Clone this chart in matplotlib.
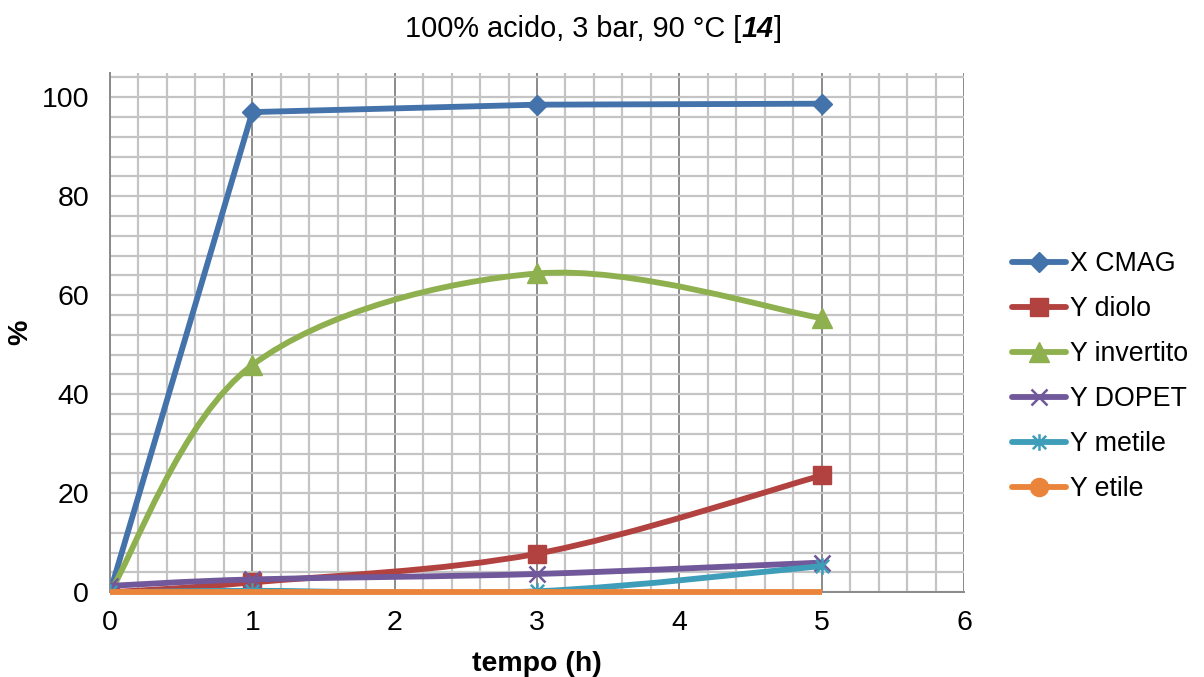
import numpy as np
import matplotlib
matplotlib.use("Agg")
import matplotlib.pyplot as plt
from matplotlib.path import Path
from matplotlib.patches import PathPatch
from matplotlib.lines import Line2D
from matplotlib.ticker import MultipleLocator

plt.rcParams["font.family"] = ["Liberation Sans", "DejaVu Sans"]

# ---- data ----
tempo = [0, 1, 3, 5]
x_cmag = [0.0, 97.0, 98.5, 98.7]
y_diolo = [0.0, 2.0, 7.8, 23.6]
y_invertito = [0.0, 45.9, 64.4, 55.4]
y_dopet = [1.3, 2.6, 3.7, 6.0]
y_metile = [0.0, 0.3, 0.2, 5.3]
y_etile = [0.0, 0.0, 0.0, 0.0]

labels = ["X CMAG", "Y diolo", "Y invertito", "Y DOPET", "Y metile", "Y etile"]
colors = ["#4472AA", "#B2423F", "#8FB04E", "#71589A", "#3E9DB8", "#E9843A"]

FS_TITLE = 20.8
FS_TICK = 20.5
FS_LEG = 19.3

# asterisk marker: an X crossed by a vertical stroke
star = Path([(-1, -1), (1, 1), (-1, 1), (1, -1), (0, -1.25), (0, 1.25)],
            [Path.MOVETO, Path.LINETO] * 3)


def smooth_path(x, y):
    """Cubic Bezier path through the points (Catmull-Rom style tangents)."""
    pts = np.column_stack([x, y]).astype(float)
    n = len(pts)
    verts = [pts[0]]
    codes = [Path.MOVETO]
    for i in range(n - 1):
        p0 = pts[i - 1] if i > 0 else pts[i]
        p1 = pts[i]
        p2 = pts[i + 1]
        p3 = pts[i + 2] if i + 2 < n else pts[i + 1]
        verts += [p1 + (p2 - p0) / 6.0, p2 - (p3 - p1) / 6.0, p2]
        codes += [Path.CURVE4] * 3
    return Path(verts, codes)


fig = plt.figure(figsize=(12.04, 6.77), dpi=100)
ax = fig.add_axes([110 / 1204, 1 - 592.3 / 677, (964 - 110) / 1204, 519.8 / 677])

ax.set_xlim(0, 6)
ax.set_ylim(0, 105)
ax.xaxis.set_major_locator(MultipleLocator(1))
ax.xaxis.set_minor_locator(MultipleLocator(0.2))
ax.set_yticks([0, 20, 40, 60, 80, 100])
ax.set_yticks(np.arange(0, 105, 4), minor=True)

minor_c = "#c4c4c4"
major_c = "#8a8a8a"
ax.grid(which="minor", color=minor_c, lw=1.6)
ax.grid(which="major", axis="y", color=minor_c, lw=1.6)
ax.grid(which="major", axis="x", color=major_c, lw=1.4)
ax.set_axisbelow(True)

for s in ("top", "right"):
    ax.spines[s].set_visible(False)
for s in ("left", "bottom"):
    ax.spines[s].set_color(major_c)
    ax.spines[s].set_linewidth(1.4)

ax.tick_params(which="both", length=0, labelsize=FS_TICK)
ax.tick_params(axis="x", pad=13)
ax.tick_params(axis="y", pad=15)

LW = 4.2

# X CMAG: straight segments
ax.plot(tempo, x_cmag, color=colors[0], lw=LW, solid_joinstyle="round",
        solid_capstyle="round", marker="D", ms=10, zorder=3)

# smoothed series
smooth_series = [
    (y_diolo, colors[1], dict(marker="s", ms=13)),
    (y_invertito, colors[2], dict(marker="^", ms=14)),
    (y_dopet, colors[3], dict(marker="x", ms=11, mew=1.8)),
    (y_metile, colors[4], dict(marker=star, ms=12, mew=1.8, mfc="none")),
]
for k, (vals, c, mk) in enumerate(smooth_series):
    patch = PathPatch(smooth_path(tempo, vals), fill=False, edgecolor=c, lw=LW,
                      joinstyle="round", capstyle="round", zorder=4 + k)
    ax.add_patch(patch)
    ax.plot(tempo, vals, ls="none", color=c, zorder=4 + k, **mk)

# Y etile: flat line at zero
ax.plot(tempo, y_etile, color=colors[5], lw=LW, solid_capstyle="butt", zorder=8,
        clip_on=False)

ax.set_xlabel("tempo (h)", fontsize=FS_TICK, fontweight="bold", labelpad=10.5)
ax.set_ylabel("%", fontsize=FS_TICK, fontweight="bold", labelpad=6)

# legend
handles = [
    Line2D([], [], color=colors[0], lw=LW, marker="D", ms=10, solid_capstyle="round"),
    Line2D([], [], color=colors[1], lw=LW, marker="s", ms=13, solid_capstyle="round"),
    Line2D([], [], color=colors[2], lw=LW, marker="^", ms=14, solid_capstyle="round"),
    Line2D([], [], color=colors[3], lw=LW, marker="x", ms=11, mew=1.8, solid_capstyle="round"),
    Line2D([], [], color=colors[4], lw=LW, marker=star, ms=12, mew=1.8, mfc="none",
           solid_capstyle="round"),
    Line2D([], [], color=colors[5], lw=LW, marker="o", ms=13, solid_capstyle="round"),
]
fig.legend(handles, labels, loc="center left", bbox_to_anchor=(1012 / 1204, 1 - 376.5 / 677),
           frameon=False, borderpad=0, borderaxespad=0, handlelength=2.0,
           handletextpad=0.16, labelspacing=0.71, fontsize=FS_LEG, numpoints=1)

# title with bold-italic reference number
fig.canvas.draw()
renderer = fig.canvas.get_renderer()
title_y = 1 - 37 / 677
parts = [("100% acido, 3 bar, 90 °C [", dict()),
         ("14", dict(fontweight="bold", fontstyle="italic")),
         ("]", dict())]
texts = [fig.text(0, title_y, p, fontsize=FS_TITLE, ha="left", va="baseline", **kw)
         for p, kw in parts]
widths = [t.get_window_extent(renderer).width for t in texts]
total = sum(widths)
x_px = 593.5 - total / 2
for t, w in zip(texts, widths):
    t.set_x(x_px / 1204)
    x_px += w

fig.savefig("out.png", dpi=100)
